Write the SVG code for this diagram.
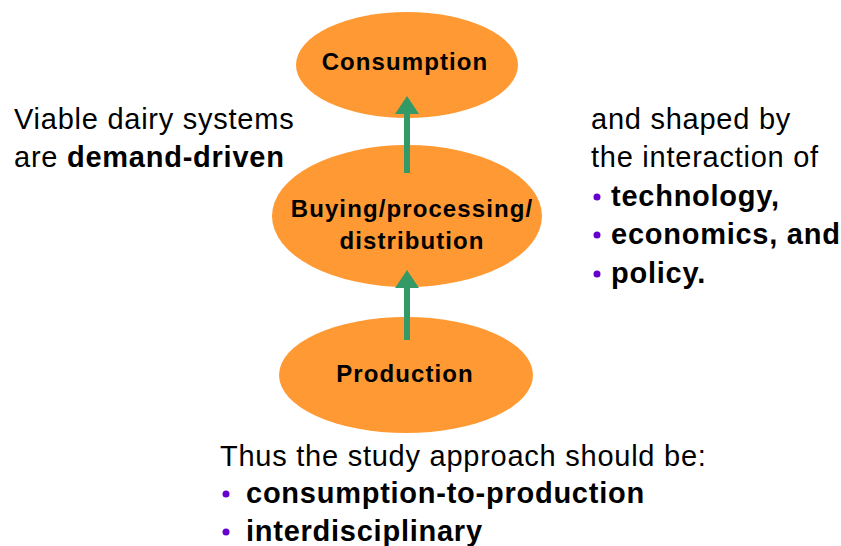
<svg xmlns="http://www.w3.org/2000/svg" width="841" height="546" viewBox="0 0 841 546">
<style>
.node{fill:#FF9933;}
.nl{font-family:"Liberation Sans",Arial,sans-serif;font-weight:bold;font-size:24px;fill:#000;text-anchor:middle;letter-spacing:1.1px;}
.t{font-family:"Liberation Sans",Arial,sans-serif;font-size:29px;fill:#000;letter-spacing:0.75px;}
.b{font-weight:bold;}
.bul{fill:#6600CC;}
.conn{stroke:#339966;stroke-width:6;fill:none;}
</style>
<defs>
<marker id="ah" markerWidth="4" markerHeight="4" refX="0.5" refY="2" orient="auto" markerUnits="strokeWidth">
<path d="M0,0 L3,2 L0,4 Z" fill="#339966"/>
</marker>
</defs>
<rect width="841" height="546" fill="#fff"/>
<g id="consumption">
<ellipse class="node" cx="407" cy="65" rx="111" ry="53"/>
<text class="nl" x="405" y="70">Consumption</text>
</g>
<g id="buying">
<ellipse class="node" cx="407" cy="216" rx="135" ry="71"/>
<text class="nl" x="412" y="217">Buying/processing/</text>
<text class="nl" x="412" y="249">distribution</text>
</g>
<g id="production">
<ellipse class="node" cx="406" cy="375" rx="127" ry="58"/>
<text class="nl" x="405" y="382">Production</text>
</g>
<g id="connectors">
<line class="conn" x1="407" y1="173" x2="407" y2="111" marker-end="url(#ah)"/>
<line class="conn" x1="407" y1="340" x2="407" y2="285" marker-end="url(#ah)"/>
</g>
<g id="left-text">
<text class="t" x="14" y="129">Viable dairy systems</text>
<text class="t" x="14" y="167">are <tspan class="b">demand-driven</tspan></text>
</g>
<g id="right-text">
<text class="t" x="591" y="129">and shaped by</text>
<text class="t" x="591" y="167">the interaction of</text>
<circle class="bul" cx="597" cy="197" r="3.5"/>
<text class="t b" x="611" y="206">technology,</text>
<circle class="bul" cx="597" cy="235" r="3.5"/>
<text class="t b" x="611" y="244">economics, and</text>
<circle class="bul" cx="597" cy="274" r="3.5"/>
<text class="t b" x="611" y="283">policy.</text>
</g>
<g id="bottom-text">
<text class="t" x="220" y="466">Thus the study approach should be:</text>
<circle class="bul" cx="226" cy="494" r="3.5"/>
<text class="t b" x="246" y="503">consumption-to-production</text>
<circle class="bul" cx="226" cy="532" r="3.5"/>
<text class="t b" x="246" y="541">interdisciplinary</text>
</g>
</svg>
